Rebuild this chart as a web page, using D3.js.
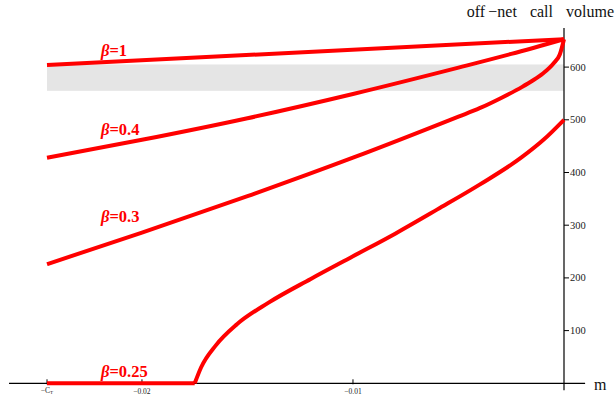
<!DOCTYPE html>
<html><head><meta charset="utf-8">
<script src="https://cdn.jsdelivr.net/npm/d3@7"></script>
<style>
html,body{margin:0;padding:0;background:#fff;}
svg{display:block;font-family:"Liberation Serif","DejaVu Serif",serif;}
</style></head>
<body><svg id="c" width="615" height="395"></svg>
<script>
// ---- data (m, off-net call volume) ----
const CT = 0.0245;
const betaLabels = ["1", "0.4", "0.3", "0.25"];
const beta1 = [[-0.0245, 604], [0, 653]];
const beta04 = [[-0.0245, 428], [-0.02, 462], [-0.015, 503], [-0.01, 549], [-0.005, 599],
  [-0.0025, 625], [0, 653]];
const beta03 = [[-0.0245, 226], [-0.02, 286], [-0.015, 355], [-0.01, 428], [-0.005, 506],
  [-0.004, 522], [-0.003, 541], [-0.002, 562], [-0.0015, 574], [-0.001, 588],
  [-0.0005, 607], [-0.0002, 624], [0, 653]];
const beta025 = [[-0.0245, 0], [-0.0175, 0], [-0.0172, 30], [-0.0165, 72], [-0.0155, 112],
  [-0.014, 153], [-0.012, 198], [-0.01, 241], [-0.008, 284], [-0.006, 330],
  [-0.004, 377], [-0.002, 429], [-0.001, 461], [0, 500]];
const series = [beta1, beta04, beta03, beta025];
const band = [555, 605];
const yTicks = [100, 200, 300, 400, 500, 600];
const xTicks = [-0.02, -0.01];
const xTickLabels = ["\u22120.02", "\u22120.01"];
const labelY = [621, 471, 306, 12];   // label baselines (data units)

const svg = d3.select("#c");
const x = d3.scaleLinear().domain([-CT, 0]).range([47, 564]);
const y = d3.scaleLinear().domain([0, 600]).range([383.3, 67.1]);

// gray band
svg.append("rect")
  .attr("x", x(-CT)).attr("y", y(band[1]))
  .attr("width", x(0) - x(-CT)).attr("height", y(band[0]) - y(band[1]))
  .attr("fill", "#e5e5e5");

// axes
svg.append("line").attr("x1", x(-0.0263)).attr("x2", x(0.001)).attr("y1", y(0)).attr("y2", y(0))
  .attr("stroke", "#000").attr("stroke-width", 1.2);
svg.append("line").attr("x1", x(0)).attr("x2", x(0)).attr("y1", y(674)).attr("y2", y(-13))
  .attr("stroke", "#000").attr("stroke-width", 1.2);

// y ticks
yTicks.forEach(t => {
  svg.append("line").attr("x1", x(0)).attr("x2", x(0) + 5).attr("y1", y(t)).attr("y2", y(t))
    .attr("stroke", "#000").attr("stroke-width", 1);
  svg.append("text").attr("x", x(0) + 6).attr("y", y(t) + 3.5)
    .attr("font-size", 10.5).attr("fill", "#222").text(t);
});
// x ticks
xTicks.forEach((t, i) => {
  svg.append("line").attr("x1", x(t)).attr("x2", x(t)).attr("y1", y(0) - 4).attr("y2", y(0) + 1)
    .attr("stroke", "#000").attr("stroke-width", 1);
  svg.append("text").attr("x", x(t)).attr("y", y(0) + 10.5).attr("text-anchor", "middle")
    .attr("font-size", 7.5).attr("fill", "#222").text(xTickLabels[i]);
});
svg.append("line").attr("x1", x(-CT)).attr("x2", x(-CT)).attr("y1", y(0) - 4).attr("y2", y(0) + 1)
  .attr("stroke", "#000").attr("stroke-width", 1);
const ctl = svg.append("text").attr("x", x(-CT)).attr("y", y(0) + 9.5).attr("text-anchor", "middle")
  .attr("font-size", 7.5).attr("fill", "#222");
ctl.append("tspan").text("\u2212C");
ctl.append("tspan").attr("font-size", 5).attr("dy", 1.5).text("T");

// axis titles
svg.append("text").attr("x", 614).attr("y", 17).attr("text-anchor", "end")
  .attr("font-size", 16).attr("word-spacing", 9).attr("fill", "#111").text("off\u2009\u2212net call volume");
svg.append("text").attr("x", 594).attr("y", 390).attr("font-size", 16).attr("fill", "#111").text("m");

// curves
const smooth = d3.line().x(d => x(d[0])).y(d => y(d[1])).curve(d3.curveMonotoneX);
const straight = d3.line().x(d => x(d[0])).y(d => y(d[1]));
series.forEach(s => {
  // flat leading segment (zero values) drawn straight so the kink stays sharp
  let k = 0;
  while (k + 1 < s.length && s[k + 1][1] === 0) k++;
  const parts = k > 0 ? [s.slice(0, k + 1), s.slice(k)] : [s];
  parts.forEach((p, j) => {
    svg.append("path").attr("d", (k > 0 && j === 0 ? straight : smooth)(p)).attr("fill", "none")
      .attr("stroke", "#ff0000").attr("stroke-width", 4).attr("stroke-linejoin", "round");
  });
});

// labels
betaLabels.forEach((b, i) => {
  const t = svg.append("text").attr("x", x(-0.02194)).attr("y", y(labelY[i]))
    .attr("font-size", 16.5).attr("font-weight", "bold").attr("fill", "#ff0000");
  t.append("tspan").attr("font-style", "italic").text("\u03b2");
  t.append("tspan").text("=" + b);
});
</script></body></html>
